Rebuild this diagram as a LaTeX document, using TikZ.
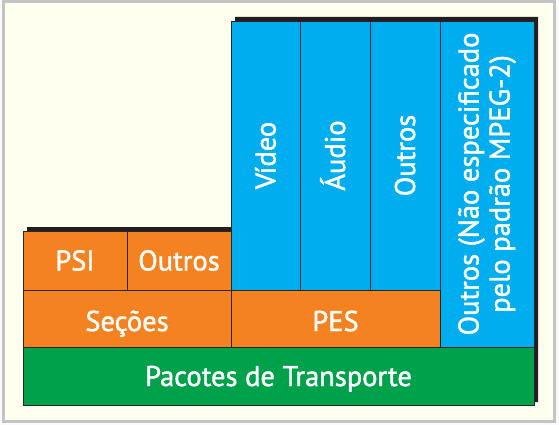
\documentclass[tikz,border=0pt]{standalone}
\usepackage{fontspec}
\setmainfont{PT Sans}[FakeBold=1.5]
\definecolor{cream}{RGB}{255,255,240}
\definecolor{framegray}{RGB}{196,196,198}
\definecolor{blu}{RGB}{0,173,238}
\definecolor{orng}{RGB}{245,130,32}
\definecolor{grn}{RGB}{0,161,75}
\definecolor{shadowc}{RGB}{35,31,32}
\definecolor{edge}{RGB}{40,40,40}
\tikzset{
  box/.style={draw=edge, line width=0.8pt, inner sep=0pt, outer sep=0pt,
    text=white, font=\fontsize{28.5}{31}\selectfont, text height=20pt, text depth=0pt},
  lowtxt/.style={text height=25pt, text depth=0pt},
  vtxt/.style={rotate=90}
}
\begin{document}
\begin{tikzpicture}[x=1pt,y=-1pt]
\useasboundingbox (0,0) rectangle (559,425);
\fill[white!96!gray] (0,0) rectangle (559,425);
\draw[fill=cream, draw=framegray, line width=3pt] (3,1.5) rectangle (554,421.5);
% shadow of the stack
\fill[shadowc] (27,227) -- (235,227) -- (235,17) -- (538,17) -- (538,402) -- (27,402) -- cycle;
% boxes
\node[box, fill=orng, minimum width=104pt, minimum height=59pt] (psi) at (75,260.5) {PSI};
\node[box, fill=orng, minimum width=104pt, minimum height=59pt] (outa) at (179,260.5) {Outros};
\node[box, fill=orng, lowtxt, minimum width=208pt, minimum height=57pt] (sec) at (127,318.5) {Seções};
\node[box, fill=orng, lowtxt, minimum width=209pt, minimum height=57pt] (pes) at (335.5,318.5) {PES};
\node[box, fill=blu, vtxt, minimum width=269pt, minimum height=69pt] (vid) at (265.5,155.5) {Vídeo};
\node[box, fill=blu, vtxt, minimum width=269pt, minimum height=70pt] (aud) at (335,155.5) {Áudio};
\node[box, fill=blu, vtxt, minimum width=269pt, minimum height=70pt] (outb) at (405,155.5) {Outros};
\node[box, fill=blu, vtxt, align=center, text height={}, text depth={}, minimum width=326pt, minimum height=94pt] (outc) at (487,184) {Outros (Não especificado\\pelo padrão MPEG-2)};
\node[box, fill=grn, minimum width=511pt, minimum height=58pt] (pac) at (278.5,376) {Pacotes de Transporte};
\end{tikzpicture}
\end{document}
